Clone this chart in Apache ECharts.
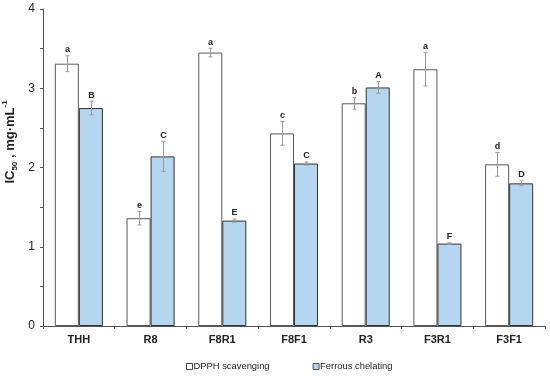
<!DOCTYPE html>
<html>
<head>
<meta charset="utf-8">
<script src="https://cdn.jsdelivr.net/npm/echarts@6/dist/echarts.min.js"></script>
<style>html,body{margin:0;padding:0;background:#fff;}#c{width:550px;height:376px;}</style>
</head>
<body>
<div id="c"></div>
<script>
var categories = ['THH', 'R8', 'F8R1', 'F8F1', 'R3', 'F3R1', 'F3F1'];
var dpph = [3.31, 1.36, 3.45, 2.43, 2.81, 3.24, 2.04];
var dpphErr = [0.10, 0.085, 0.055, 0.15, 0.075, 0.21, 0.15];
var dpphLetters = ['a', 'e', 'a', 'c', 'b', 'a', 'd'];
var ferrous = [2.75, 2.14, 1.33, 2.05, 3.01, 1.04, 1.80];
var ferrousErr = [0.085, 0.19, 0.02, 0.02, 0.075, 0.01, 0.03];
var ferrousLetters = ['B', 'C', 'E', 'C', 'A', 'F', 'D'];
var yTicks = [0, 1, 2, 3, 4];

var FONT = '"Liberation Sans", Arial, sans-serif';
var chart = echarts.init(document.getElementById('c'), null, {renderer: 'canvas'});

function errData(vals, errs, letters) {
  return vals.map(function (v, i) { return [i, v, errs[i], letters[i]]; });
}

function makeErrRender(which) {
  return function (params, api) {
    var i = api.value(0);
    var v = api.value(1);
    var e = api.value(2);
    var letter = (which === 0 ? dpphLetters : ferrousLetters)[params.dataIndex];
    var size = api.size([1, 0]);
    var bandW = size[0];
    var barW = bandW * 0.335;
    var offset = which === 0 ? -barW / 2 : barW / 2;
    var top = api.coord([i, v + e]);
    var bot = api.coord([i, v - e]);
    var x = Math.round(top[0] + offset) + 0.5;
    var cap = 2;
    var st = {stroke: '#9a9a9a', lineWidth: 1};
    return {
      type: 'group',
      children: [
        {type: 'line', shape: {x1: x, y1: top[1], x2: x, y2: bot[1]}, style: st},
        {type: 'line', shape: {x1: x - cap, y1: top[1], x2: x + cap, y2: top[1]}, style: st},
        {type: 'line', shape: {x1: x - cap, y1: bot[1], x2: x + cap, y2: bot[1]}, style: st},
        {type: 'text', x: x, y: top[1] - 1.5, style: {text: letter, fill: '#222', font: 'bold 9px ' + FONT, textAlign: 'center', textVerticalAlign: 'bottom'}}
      ]
    };
  };
}

var option = {
  animation: false,
  backgroundColor: '#fff',
  grid: {left: 43, right: 5, top: 9, bottom: 50, containLabel: false},
  legend: {
    top: 362,
    left: 186,
    padding: 0,
    itemWidth: 6,
    itemHeight: 6,
    itemGap: 43,
    textStyle: {fontFamily: FONT, fontSize: 9.4, color: '#222', padding: [0, 0, 0, -4]},
    data: [
      {name: 'DPPH scavenging', icon: 'rect', itemStyle: {borderColor: '#444', borderWidth: 1}},
      {name: 'Ferrous chelating', icon: 'rect', itemStyle: {borderColor: '#555', borderWidth: 1}}
    ]
  },
  xAxis: {
    type: 'category',
    data: categories,
    axisLine: {lineStyle: {color: '#555', width: 1}},
    axisTick: {show: true, length: 3, lineStyle: {color: '#555'}},
    axisLabel: {fontFamily: FONT, fontWeight: 'bold', fontSize: 11, color: '#222', margin: 8}
  },
  yAxis: {
    type: 'value',
    min: 0, max: 4, interval: 1,
    axisLine: {show: true, lineStyle: {color: '#555', width: 1}},
    axisTick: {show: true, length: 3, lineStyle: {color: '#555'}},
    minorTick: {show: true, splitNumber: 2, length: 3, lineStyle: {color: '#555'}},
    splitLine: {show: false},
    axisLabel: {fontFamily: FONT, fontSize: 12, color: '#222', margin: 8,
      formatter: function (v) { return yTicks.indexOf(v) >= 0 ? String(v) : ''; }}
  },
  series: [
    {
      name: 'DPPH scavenging', type: 'bar', data: dpph,
      barGap: '0%', barCategoryGap: '33%',
      itemStyle: {color: '#ffffff', borderColor: '#5a5a5a', borderWidth: 1}
    },
    {
      name: 'Ferrous chelating', type: 'bar', data: ferrous,
      barGap: '0%', barCategoryGap: '33%',
      itemStyle: {color: '#b4d6ef', borderColor: '#333', borderWidth: 1}
    },
    {
      type: 'custom', renderItem: makeErrRender(0), data: errData(dpph, dpphErr, dpphLetters),
      encode: {x: 0, y: 1}, z: 5, silent: true
    },
    {
      type: 'custom', renderItem: makeErrRender(1), data: errData(ferrous, ferrousErr, ferrousLetters),
      encode: {x: 0, y: 1}, z: 5, silent: true
    }
  ],
  graphic: [
    {
      type: 'text', x: 10, y: 142, rotation: Math.PI / 2,
      style: {
        text: '{b|IC}{s|50}{b| , mg·mL}{p|-1}',
        textAlign: 'center', textVerticalAlign: 'middle',
        rich: {
          b: {fontFamily: FONT, fontWeight: 'bold', fontSize: 13, fill: '#222', lineHeight: 18, verticalAlign: 'middle'},
          s: {fontFamily: FONT, fontWeight: 'bold', fontSize: 8, fill: '#222', lineHeight: 18, verticalAlign: 'bottom'},
          p: {fontFamily: FONT, fontWeight: 'bold', fontSize: 8, fill: '#222', lineHeight: 18, verticalAlign: 'top'}
        }
      }
    }
  ]
};
chart.setOption(option);
</script>
</body>
</html>
